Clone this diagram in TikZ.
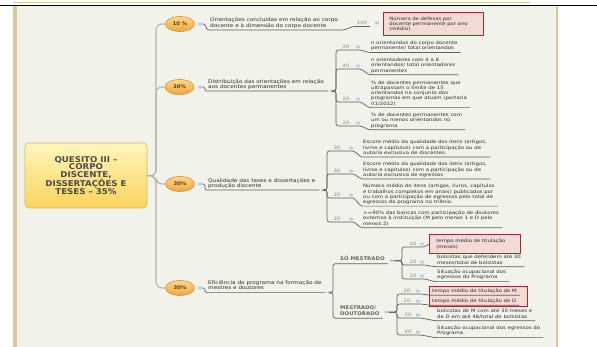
\documentclass[tikz,border=0pt]{standalone}
\usepackage{fontspec}
\setmainfont{DejaVu Sans}
\newfontfamily\sm[FakeStretch=1.08]{DejaVu Sans}
\newfontfamily\smr[FakeStretch=1.2]{DejaVu Sans}
\newfontfamily\sml[FakeStretch=1.15]{DejaVu Sans}
\usetikzlibrary{shapes.geometric,calc}
\definecolor{panel}{HTML}{F1F2EA}
\definecolor{tanb}{HTML}{D9C89A}
\definecolor{trunkc}{HTML}{B4B4B4}
\definecolor{ulc}{HTML}{606060}
\definecolor{txtc}{HTML}{2E2E2E}
\definecolor{numc}{HTML}{888888}
\definecolor{dotc}{HTML}{B9D0EA}
\definecolor{boxfill}{HTML}{F2DAD6}
\definecolor{boxdraw}{HTML}{A52A2A}
\definecolor{ovaltop}{HTML}{FDD98C}
\definecolor{ovalbot}{HTML}{F3A53A}
\definecolor{ovaldraw}{HTML}{D4923A}
\definecolor{ovaltext}{HTML}{5E3E1E}
\definecolor{qtop}{HTML}{FFF6BC}
\definecolor{qbot}{HTML}{FAD35C}
\definecolor{qdraw}{HTML}{D9B94E}
\definecolor{qtext}{HTML}{4A4A4A}
\definecolor{grpc}{HTML}{666666}
\tikzset{
  rowtxt/.style={anchor=north west, inner sep=0pt, align=left, text=txtc,
    font=\smr\fontsize{4.5}{5.2}\selectfont,
    execute at begin node={\rule{0pt}{.95em}},
    execute at end node={\rule[-.25em]{0pt}{.25em}}},
  lbl/.style={rowtxt, font=\sml\fontsize{5}{5.2}\selectfont},
  num/.style={inner sep=0pt, text=numc, font=\smr\fontsize{4.5}{5}\selectfont},
  dotb/.style={ellipse, fill=dotc, minimum width=4.5pt, minimum height=3.2pt, inner sep=0pt},
  uline/.style={draw=ulc, line width=0.7pt},
  trunk/.style={draw=trunkc, line width=1.1pt, rounded corners=6pt},
  oval/.style={ellipse, draw=ovaldraw, line width=0.6pt, top color=ovaltop, bottom color=ovalbot,
    minimum width=29pt, minimum height=15pt, inner sep=0pt, text=ovaltext,
    font=\sm\bfseries\fontsize{5}{6}\selectfont},
  redbox/.style={draw=boxdraw, line width=0.7pt, fill=boxfill},
  central/.style={rectangle, rounded corners=4pt, draw=qdraw, line width=0.6pt,
    top color=qtop, bottom color=qbot, minimum width=122pt, minimum height=65pt,
    align=center, text=qtext, font=\sm\bfseries\fontsize{8}{7.6}\selectfont},
  grp/.style={rowtxt, text=grpc, font=\sm\bfseries\fontsize{5}{6}\selectfont},
}
% row: name, number, xn, yn, xd, xt, first-line centre y, text
\newcommand\rowitem[8]{%
  \node[num] (#1n) at (#3,#4) {#2};
  \node[dotb] (#1d) at (#5,#4) {};
  \node[rowtxt] (#1t) at (#6,#7-2.9) {#8};
  \coordinate (#1a) at (#3-6,#4+3);
  \coordinate (#1b) at (#5+3,#4+3);
  \coordinate (#1s) at ([xshift=-2pt,yshift=-1.3pt]#1t.south west);
  \coordinate (#1e) at ([xshift=3pt,yshift=-1.3pt]#1t.south east);
  \draw[uline,rounded corners=2.5pt] (\psrc) -| (\bx,#4+3) -- (#1a);
  \draw[uline,rounded corners=1.5pt] (#1a) -- (#1b) -- (#1s) -- (#1e);
}
\begin{document}
\begin{tikzpicture}[x=1pt,y=-1pt]
\useasboundingbox (0,0) rectangle (597,347);
\fill[white] (0,0) rectangle (597,347);
\fill[panel] (13,6) rectangle (557,347);
\fill[tanb] (13,6) rectangle (16.5,347);
\fill[tanb] (555.5,6) rectangle (558,347);
\draw[tanb, line width=1pt] (13,2.5) -- (530,2.5);
\draw[black, line width=1.6pt] (0,5.6) -- (597,5.6);

% central topic
\node[central] (q) at (86,175.5) {QUESITO III –\\CORPO\\DISCENTE,\\DISSERTAÇÕES E\\TESES – 35\%};

% weights
\node[oval] (a) at (180,24) {10 \%};
\node[oval] (b) at (179.5,87) {30\%};
\node[oval] (c) at (180,184) {30\%};
\node[oval] (d) at (180,288) {30\%};
\foreach \o in {a,b,c,d} \draw[trunk] (q.east) -- (156,176) |- (\o.west);

\node[dotb] (da) at (200,24) {};
\node[dotb] (db) at (200,87) {};
\node[dotb] (dc) at (200,184) {};
\node[dotb] (dd) at (200,288) {};

% level-1 labels
\node[lbl] (l1) at (210,17.8) {Orientações concluídas em relação ao corpo\\docente e à dimensão do corpo docente};
\node[lbl] (l2) at (208,79) {Distribuição das orientações em relação\\aos docentes permanentes};
\node[lbl] (l3) at (208,178) {Qualidade das teses e dissertações e\\produção discente};
\node[lbl] (l4) at (208,280.5) {Eficiência do programa na formação de\\mestres e doutores};
\foreach \l/\dd in {l1/da,l2/db,l3/dc,l4/dd}{
  \coordinate (\l s) at ([xshift=-3pt,yshift=-1.3pt]\l.south west);
  \coordinate (\l e) at ([xshift=4pt,yshift=-1.3pt]\l.south east);
  \draw[uline, rounded corners=1.5pt] (\dd.east) -- ++(2.5,0) -- (\l s) -- (\l e);
}

% branch 1
\node[num] (n100) at (362,23) {100};
\coordinate (n100a) at (355,26.5);
\coordinate (n100b) at (370,26.5);
\draw[uline] (l1e) .. controls +(5,0) and +(-5,0) .. (n100a) -- (n100b);
\node[dotb] (d100) at (377,23) {};
\node[redbox, rowtxt, anchor=north west, text width=88pt, inner xsep=6pt, inner ysep=0pt,
  minimum height=23.5pt] (rb1) at (383,12) {Número de defesas por\\docente permanente por ano\\(média)};

% branch 2
\node[dotb] (d2) at ($(l2e)+(4,0)$) {};
\def\psrc{d2.east}\def\bx{336}
\rowitem{r21}{20}{346}{47}{358}{371}{44}{n orientandos do corpo docente\\permanente/ total orientandos}
\rowitem{r22}{40}{346}{66}{358}{371}{61}{n orientadores com 4 a 8\\orientandos/ total orientadores\\permanentes}
\rowitem{r23}{20}{346}{99}{358}{371}{83.5}{\% de docentes permanentes que\\ultrapassam o limite de 15\\orientandos no conjunto dos\\programas em que atuam (portaria\\01/2012)}
\rowitem{r24}{20}{346}{123}{358}{371}{116}{\% de docentes permanentes com\\um ou menos orientandos no\\programa}

% branch 3
\node[dotb] (d3) at ($(l3e)+(4,0)$) {};
\def\psrc{d3.east}\def\bx{327}
\rowitem{r31}{30}{337}{148}{351}{363}{143}{Escore médio da qualidade dos itens (artigos,\\livros e capítulos) com a participação  ou de\\autoria exclusiva de discentes.}
\rowitem{r32}{30}{337}{171}{351}{363}{165}{Escore médio da qualidade dos itens (artigos,\\livros e capítulos) com a participação ou de\\autoria exclusiva de egressos}
\rowitem{r33}{20}{337}{195}{351}{363}{187}{Número médio de itens (artigos, livros, capítulos\\e trabalhos completos em anais) publicados por\\ou com a participação de egressos pelo total de\\egressos do programa no triênio.}
\rowitem{r34}{20}{337}{219}{351}{363}{214}{>=90\% das bancas com participação de doutores\\externos à instituição (M pelo menos 1 e D pelo\\menos 2)}

% branch 4
\node[dotb] (d4) at ($(l4e)+(4,0)$) {};
\node[grp] (sm) at (340,256) {SÓ MESTRADO};
\node[grp] (md) at (340,305.5) {MESTRADO/\\DOUTORADO};
\foreach \g in {sm,md}{
  \coordinate (\g s) at ([xshift=-3pt,yshift=-1.3pt]\g.south west);
  \coordinate (\g e) at ([xshift=3pt,yshift=-1.3pt]\g.south east);
  \draw[uline, rounded corners=2.5pt] (d4.east) -| ($(\g s)+(-4,0)$) -- (\g s) -- (\g e);
}
\node[dotb] (dsm) at ($(sme)+(4,-3)$) {};
\node[dotb] (dmd) at ($(mde)+(4,-6)$) {};

\def\psrc{dsm.east}\def\bx{402}
\node[num] (s1n) at (413,244) {40};
\node[dotb] (s1d) at (422,244) {};
\node[redbox, rowtxt, anchor=north west, text width=77pt, inner xsep=7pt, inner ysep=0pt,
  minimum height=19pt] (s1t) at (429,234) {tempo médio de titulação\\(meses)};
\draw[uline,rounded corners=2.5pt] (\psrc) -| (\bx,247) -- (407,247) -- (425,247) -- (s1t.west);
\rowitem{s2}{20}{413}{262}{422}{437}{258}{bolsistas que defendem até 30\\meses/total de bolsistas}
\rowitem{s3}{20}{413}{276}{422}{437}{273}{Situação ocupacional dos\\egressos do Programa}

\def\psrc{dmd.east}\def\bx{397}
\node[redbox, anchor=north west, minimum width=98pt, minimum height=19.5pt, inner sep=0pt] (rb3) at (429,286.5) {};
\rowitem{m1}{20}{407}{291}{418}{432}{291}{tempo médio de titulação de M}
\rowitem{m2}{20}{407}{301}{418}{432}{301}{tempo médio de titulação de D}
\rowitem{m3}{20}{408}{315}{418}{437}{312}{bolsistas de M com até 30 meses e\\de D em até 48/total de bolsistas}
\rowitem{m4}{40}{408}{332}{418}{437}{329}{Situação ocupacional dos egressos do\\Programa}
\end{tikzpicture}
\end{document}
